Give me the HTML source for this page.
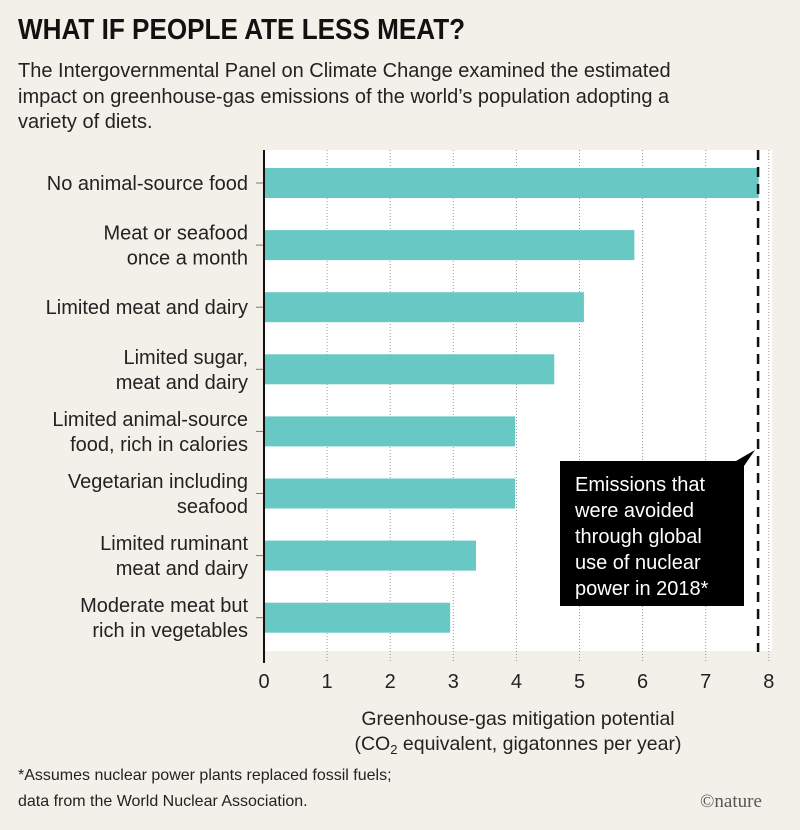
<!DOCTYPE html>
<html><head><meta charset="utf-8"><style>
body{margin:0;background:#f3f0ea;font-family:"Liberation Sans",sans-serif;}
#wrap{position:relative;width:800px;height:830px;overflow:hidden;background:#f3f0ea;}
h1{position:absolute;left:18px;top:14px;margin:0;font-size:29px;font-weight:bold;letter-spacing:0;transform:scaleX(0.9);transform-origin:left;color:#111;}
.sub{position:absolute;left:18px;top:59px;width:790px;font-size:20px;line-height:25.5px;color:#222;white-space:nowrap;}
.foot{position:absolute;left:18px;font-size:16px;color:#222;}
</style></head><body>
<div id="wrap">
<h1>WHAT IF PEOPLE ATE LESS MEAT?</h1>
<div class="sub">The Intergovernmental Panel on Climate Change examined the estimated<br>impact on greenhouse-gas emissions of the world’s population adopting a<br>variety of diets.</div>
<svg id="chart" width="800" height="830" style="position:absolute;left:0;top:0"></svg>
<div class="foot" style="top:767px">*Assumes nuclear power plants replaced fossil fuels;</div>
<div class="foot" style="top:793px">data from the World Nuclear Association.</div>
<div style="position:absolute;left:700px;top:791px;font-size:19px;color:#555;font-family:'Liberation Serif',serif">©nature</div>
</div>
<script>
const categories=[["No animal-source food"],["Meat or seafood","once a month"],["Limited meat and dairy"],["Limited sugar,","meat and dairy"],["Limited animal-source","food, rich in calories"],["Vegetarian including","seafood"],["Limited ruminant","meat and dairy"],["Moderate meat but","rich in vegetables"]];
const values=[7.84,5.87,5.07,4.6,3.98,3.98,3.36,2.95];
const ticks=[0,1,2,3,4,5,6,7,8];
const nuclear=[7.83];
const NS="http://www.w3.org/2000/svg";
const svg=document.getElementById('chart');
const x=v=>264+v*63.1;
const y=i=>183+i*62.1;
function mk(t,a,p){const e=document.createElementNS(NS,t);for(const k in a)e.setAttribute(k,a[k]);(p||svg).appendChild(e);return e;}
let el=mk('rect',{x:264,y:150,width:508,height:501,fill:'#fff'});


ticks.forEach(t=>{
 let g=mk('line',{x1:x(t),x2:x(t),y1:150,y2:663,stroke:'#999','stroke-width':1,'stroke-dasharray':'1,2'});
 
 
 let tl=mk('text',{x:x(t),y:688,'text-anchor':'middle','font-size':20,fill:'#222'});
 tl.textContent=t;
 
 
});
values.forEach((v,i)=>{
 let b=mk('rect',{x:x(0),y:y(i)-15,width:x(v)-x(0),height:30,fill:'#68c8c4'});
 
 
 let tk=mk('line',{x1:256,x2:264,y1:y(i),y2:y(i),stroke:'#777','stroke-width':1});
 
 
 const lines=categories[i];
 lines.forEach((s,j)=>{
  let t=mk('text',{x:248,y:y(i)+7+(j-(lines.length-1)/2)*25,'text-anchor':'end','font-size':20,fill:'#222'});
  t.textContent=s;
  
  
 });
});
let ax=mk('line',{x1:264,x2:264,y1:150,y2:663,stroke:'#111','stroke-width':2});


let dl=mk('line',{x1:x(nuclear[0]),x2:x(nuclear[0]),y1:150,y2:652,stroke:'#111','stroke-width':2.5,'stroke-dasharray':'10,7'});


let cb=mk('path',{d:'M560,461 L736,461 L755,450 L744,466 L744,606 L560,606 Z',fill:'#000'});


["Emissions that","were avoided","through global","use of nuclear","power in 2018*"].forEach((s,j)=>{
 let t=mk('text',{x:575,y:491+j*26,'font-size':20,fill:'#fff'});
 t.textContent=s;
 
 
});
let xt=mk('text',{x:518,y:725,'text-anchor':'middle','font-size':19.5,fill:'#222'});
xt.textContent='Greenhouse-gas mitigation potential';


let xt2=mk('text',{x:518,y:750,'text-anchor':'middle','font-size':19.5,fill:'#222'});
xt2.innerHTML='(CO<tspan font-size="13" dy="4">2</tspan><tspan dy="-4"> equivalent, gigatonnes per year)</tspan>';


</script>
</body></html>
